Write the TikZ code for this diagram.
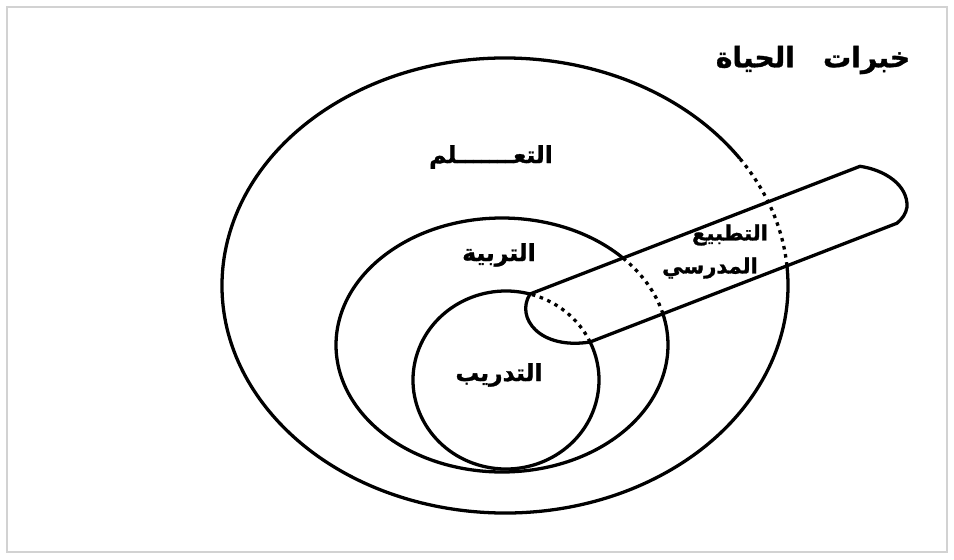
\documentclass[tikz,border=0pt]{standalone}
\usepackage{fontspec}
\newfontfamily\arabicfont[Script=Arabic,FakeBold=1.2]{DejaVu Sans Bold}
\TeXXeTstate=1
\begin{document}
\begin{tikzpicture}[x=0.03cm,y=0.03cm,
  ln/.style={line width=2.8pt, line cap=round, line join=round},
  dots/.style={line width=2.8pt, dash pattern=on 3pt off 4pt},
  lab/.style={font=\arabicfont\fontsize{20}{22}\selectfont, inner sep=0pt}]
\useasboundingbox (0,0) rectangle (954,-559);
\draw[gray!35, line width=1.5pt] (7,-7) rectangle (947,-552);
% outer ellipse
\draw[ln] (505,-285.5) ++(34:283 and 227.5) arc[start angle=34,end angle=365,x radius=283,y radius=227.5];
\draw[dots] (505,-285.5) ++(5:283 and 227.5) arc[start angle=5,end angle=34,x radius=283,y radius=227.5];
% middle ellipse
\draw[ln] (502,-345) ++(43.2:166 and 127) arc[start angle=43.2,end angle=374.3,x radius=166,y radius=127];
\draw[dots] (502,-345) ++(14.3:166 and 127) arc[start angle=14.3,end angle=43.2,x radius=166,y radius=127];
% inner ellipse
\draw[ln] (506,-380) ++(75:93 and 89) arc[start angle=75,end angle=385.3,x radius=93,y radius=89];
\draw[dots] (506,-380) ++(25.3:93 and 89) arc[start angle=25.3,end angle=75,x radius=93,y radius=89];
% tube
\coordinate (p1) at (530,-294);
\coordinate (p2) at (590,-342);
\coordinate (q1) at (860,-166.3);
\coordinate (q2) at (897,-223.2);
\draw[ln] (p1) -- (q1) .. controls (885,-170) and (908,-185) .. (907,-207)
  .. controls (906,-214) and (902,-219) .. (q2) -- (p2);
\draw[ln] (p1) .. controls (515,-318) and (540,-350) .. (p2);
% labels
\node[lab, font=\arabicfont\fontsize{24}{26}\selectfont] (title) at (813,-60) {\beginR خبرات\hspace{1em}الحياة\endR};
\node[lab] (learn) at (491,-157) {\beginR التعـــــــلم\endR};
\node[lab] (edu) at (499,-255) {\beginR التربية\endR};
\node[lab, font=\arabicfont\fontsize{18}{20}\selectfont] (soc1) at (730,-235) {\beginR التطبيع\endR};
\node[lab, font=\arabicfont\fontsize{18}{20}\selectfont] (soc2) at (710,-268) {\beginR المدرسي\endR};
\node[lab] (train) at (499,-375) {\beginR التدريب\endR};
\end{tikzpicture}
\end{document}
